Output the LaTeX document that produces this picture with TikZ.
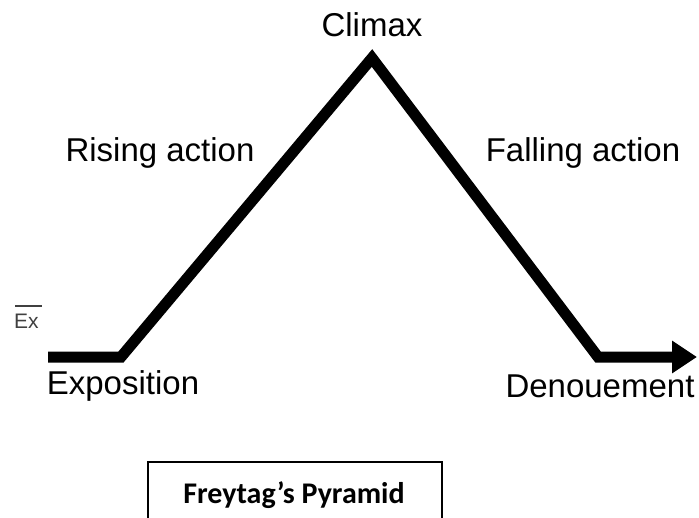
\documentclass[tikz,border=0pt]{standalone}
\usepackage{fontspec}
\setmainfont{Liberation Sans}
\newfontfamily\boxfont{Carlito}
\usetikzlibrary{arrows.meta}
\tikzset{
	stage/.style={font=\fontsize{33}{38}\selectfont, inner sep=0pt},
}
\begin{document}
\begin{tikzpicture}[x=1pt,y=-1pt]
\clip (0,0) rectangle (699,517);
\fill[white] (0,0) rectangle (699,517);
\coordinate (start) at (48,357);
\coordinate (base) at (121,357);
\coordinate (peak) at (372,58);
\coordinate (end) at (598,357);
\coordinate (tip) at (697,357);
\draw[line width=11pt,-{Triangle[length=25pt,width=31pt]}] (start)--(base)--(peak)--(end)--(tip);
\node[stage] (climax) at (372,25) {Climax};
\node[stage] (rising) at (160,153) {Rising action};
\node[stage] (falling) at (583,153) {Falling action};
\node[stage] (expo) at (123,386) {Exposition};
\node[stage] (denoue) at (600,386) {Denouement};
% stray label at the left
\node[font=\fontsize{21}{24}\selectfont, text=black!75, inner sep=0pt, anchor=west] (ex) at (14,321) {Ex};
\draw[black!75, line width=1.2pt] (15,306)--(42,306);
\draw[line width=2pt] (148,540) |- (442,462) -- (442,540);
\node[font=\boxfont\bfseries\fontsize{30}{34}\selectfont, inner sep=0pt] (title) at (294,495) {Freytag’s Pyramid};
\end{tikzpicture}
\end{document}
